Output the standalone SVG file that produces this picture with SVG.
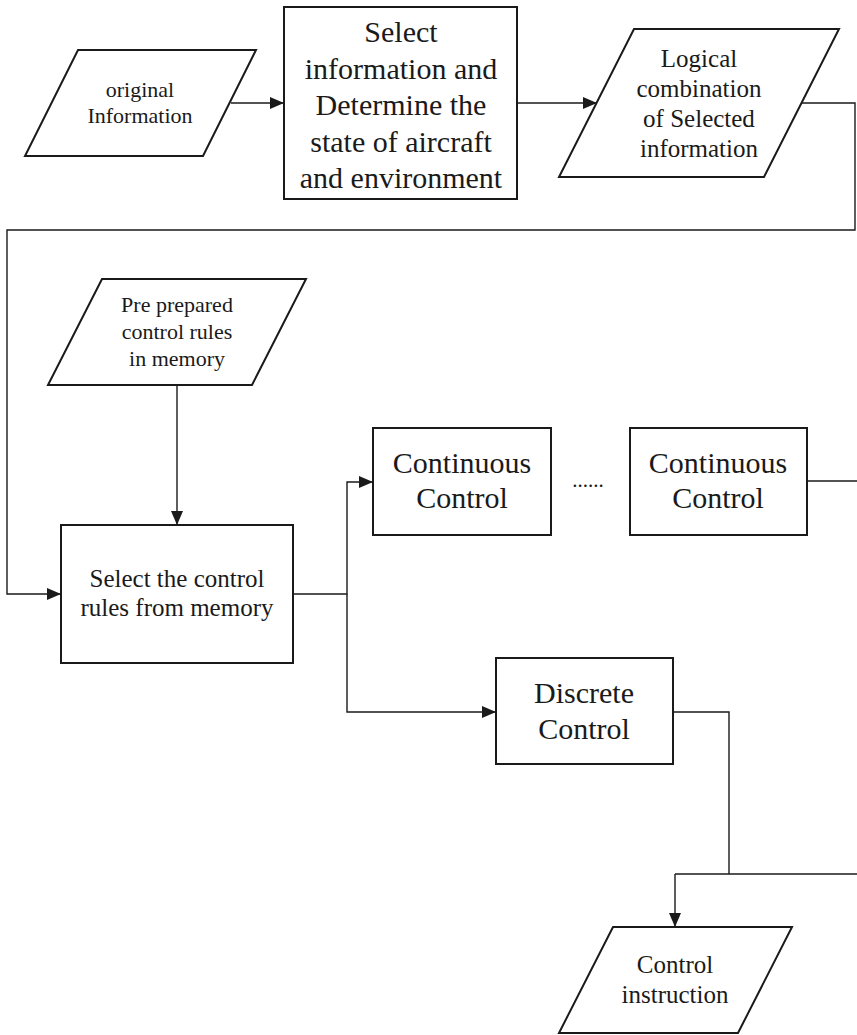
<svg xmlns="http://www.w3.org/2000/svg" width="857" height="1035" viewBox="0 0 857 1035">
<style>
.s{fill:#fff;stroke:#1a1a1a;stroke-width:2}
.c{fill:none;stroke:#1a1a1a;stroke-width:1.4}
text{font-family:"Liberation Serif","Times New Roman",serif;fill:#1a1a1a;text-anchor:middle}
</style>
<defs>
<marker id="ah" markerUnits="userSpaceOnUse" markerWidth="14" markerHeight="12" refX="14" refY="6" orient="auto">
<path d="M0,0 L14,6 L0,12 z" fill="#1a1a1a"/>
</marker>
</defs>
<rect width="857" height="1035" fill="#fff"/>
<g id="connectors">
<line class="c" x1="231" y1="103" x2="284" y2="103" marker-end="url(#ah)"/>
<line class="c" x1="517" y1="103" x2="597" y2="103" marker-end="url(#ah)"/>
<polyline class="c" points="801,103 855,103 855,230 7,230 7,594 61,594" marker-end="url(#ah)"/>
<line class="c" x1="177" y1="385" x2="177" y2="525" marker-end="url(#ah)"/>
<polyline class="c" points="293,594 347,594 347,482 373,482" marker-end="url(#ah)"/>
<polyline class="c" points="347,594 347,712 496,712" marker-end="url(#ah)"/>
<line class="c" x1="807" y1="481" x2="857" y2="481"/>
<polyline class="c" points="673,712 729,712 729,874"/>
<line class="c" x1="675" y1="874" x2="857" y2="874"/>
<line class="c" x1="675" y1="874" x2="675" y2="927" marker-end="url(#ah)"/>
</g>
<g id="original-information">
<polygon class="s" points="78,50 256,50 203,156 25,156"/>
<text font-size="22"><tspan x="140" y="97">original</tspan><tspan x="140" y="123">Information</tspan></text>
</g>
<g id="select-information">
<rect class="s" x="284" y="7" width="233" height="192"/>
<text font-size="30"><tspan x="401" y="42">Select</tspan><tspan x="401" y="78.5">information and</tspan><tspan x="401" y="115">Determine the</tspan><tspan x="401" y="151.5">state of aircraft</tspan><tspan x="401" y="188">and environment</tspan></text>
</g>
<g id="logical-combination">
<polygon class="s" points="634,29 839,29 764,177 559,177"/>
<text font-size="25"><tspan x="699" y="67">Logical</tspan><tspan x="699" y="97">combination</tspan><tspan x="699" y="127">of Selected</tspan><tspan x="699" y="157">information</tspan></text>
</g>
<g id="pre-prepared-rules">
<polygon class="s" points="102,279 306,279 252,385 48,385"/>
<text font-size="22"><tspan x="177" y="312">Pre prepared</tspan><tspan x="177" y="339">control rules</tspan><tspan x="177" y="366">in memory</tspan></text>
</g>
<g id="select-control-rules">
<rect class="s" x="61" y="525" width="232" height="138"/>
<text font-size="25"><tspan x="177" y="587">Select the control</tspan><tspan x="177" y="616">rules from memory</tspan></text>
</g>
<g id="continuous-control-1">
<rect class="s" x="373" y="428" width="178" height="107"/>
<text font-size="30"><tspan x="462" y="473">Continuous</tspan><tspan x="462" y="508">Control</tspan></text>
</g>
<g id="ellipsis">
<text font-size="21" x="588" y="487">......</text>
</g>
<g id="continuous-control-2">
<rect class="s" x="630" y="428" width="177" height="107"/>
<text font-size="30"><tspan x="718" y="473">Continuous</tspan><tspan x="718" y="508">Control</tspan></text>
</g>
<g id="discrete-control">
<rect class="s" x="496" y="658" width="177" height="106"/>
<text font-size="30"><tspan x="584" y="703">Discrete</tspan><tspan x="584" y="739">Control</tspan></text>
</g>
<g id="control-instruction">
<polygon class="s" points="613,927 792,927 738,1033 559,1033"/>
<text font-size="25"><tspan x="675" y="973">Control</tspan><tspan x="675" y="1003">instruction</tspan></text>
</g>
</svg>
